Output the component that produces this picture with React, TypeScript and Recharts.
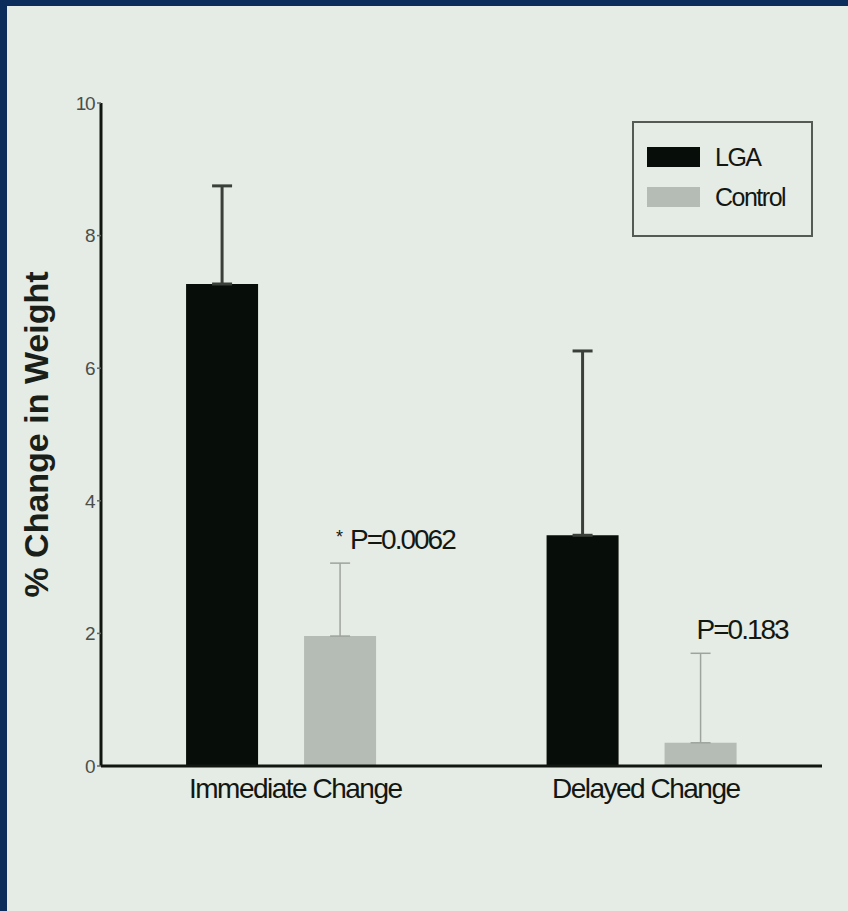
import React from 'react';
import { BarChart, Bar, XAxis, YAxis, ErrorBar, LabelList, Legend, Label } from 'recharts';

const categories = ['Immediate Change', 'Delayed Change'];
const lgaValues = [7.27, 3.48];
const lgaErrors = [1.48, 2.78];
const controlValues = [1.96, 0.35];
const controlErrors = [1.1, 1.35];
const pLabels = ['* P=0.0062', 'P=0.183'];
const yTicks = [0, 2, 4, 6, 8, 10];
const seriesNames = ['LGA', 'Control'];

const data = categories.map((name, i) => ({
  name,
  lga: lgaValues[i],
  lgaErr: [0, lgaErrors[i]],
  control: controlValues[i],
  controlErr: [0, controlErrors[i]],
  p: pLabels[i],
}));

const FONT = '"Liberation Sans", Arial, sans-serif';
const INK = '#121712';
const LGA_FILL = '#070d08';
const CTRL_FILL = '#b5bbb5';
const tickDx = [14, 4];

const renderXTick = (props: any) => {
  const { x, y, payload, index } = props;
  return (
    <text
      x={x + (tickDx[index] || 0)}
      y={y}
      dy={24}
      textAnchor="middle"
      fontFamily={FONT}
      fontSize={28}
      letterSpacing={-1.5}
      fill={INK}
    >
      {payload.value}
    </text>
  );
};

const renderPLabel = (props: any) => {
  const vb = props.viewBox || props;
  const x = Number(vb.x ?? props.x);
  const y = Number(vb.y ?? props.y);
  const width = Number(vb.width ?? props.width);
  const height = Number(vb.height ?? props.height);
  const index = props.index;
  const value = String(props.value);
  const pxPerUnit = height / controlValues[index];
  const errTop = y - controlErrors[index] * pxPerUnit;
  const star = value.startsWith('*');
  const rest = star ? value.replace(/^\*\s*/, '') : value;
  return (
    <text
      x={x + width / 2 - 4}
      y={errTop - 14}
      textAnchor="start"
      fontFamily={FONT}
      fontSize={28}
      letterSpacing={-2}
      fill={INK}
    >
      {star && (
        <tspan fontSize={18} dy={-6}>
          {'*'}
        </tspan>
      )}
      <tspan dy={star ? 6 : 0} dx={star ? 9 : 0}>{rest}</tspan>
    </text>
  );
};

const renderYLabel = (props: any) => {
  const vb = props.viewBox || {};
  const cx = vb.x + vb.width - 65;
  const cy = vb.y + vb.height / 2;
  return (
    <text
      x={cx}
      y={cy}
      transform={`rotate(-90, ${cx}, ${cy})`}
      textAnchor="middle"
      dominantBaseline="central"
      fontFamily={FONT}
      fontSize={34}
      fontWeight="bold"
      fill="#1a1f1a"
    >
      % Change in Weight
    </text>
  );
};

const renderLegend = (props: any) => {
  const payload = [...(props.payload || [])].sort(
    (a: any, b: any) => seriesNames.indexOf(a.value) - seriesNames.indexOf(b.value)
  );
  return (
    <div
      style={{
        boxSizing: 'border-box',
        width: 181,
        height: 116,
        border: '2px solid #555a55',
        paddingTop: 24,
        paddingLeft: 13,
      }}
    >
      {payload.map((entry: any, i: number) => (
        <div key={i} style={{ display: 'flex', alignItems: 'center', height: 20, marginBottom: 20 }}>
          <div style={{ width: 53, height: 20, background: entry.color }} />
          <span
            style={{
              marginLeft: 15,
              fontFamily: FONT,
              fontSize: 25,
              letterSpacing: -1.5,
              color: INK,
              lineHeight: '20px',
            }}
          >
            {entry.value}
          </span>
        </div>
      ))}
    </div>
  );
};

export default function App() {
  return (
    <div style={{ position: 'absolute', left: 0, top: 0, width: 848, height: 911, background: '#0b2d5c', overflow: 'hidden' }}>
      <div style={{ position: 'absolute', left: 7, top: 6, width: 841, height: 905, background: '#e5ebe5' }} />
      <div style={{ position: 'absolute', left: 0, top: 0 }}>
        <BarChart
          width={848}
          height={911}
          data={data}
          margin={{ top: 103, right: 26, left: 0, bottom: 105 }}
          barCategoryGap="23.6%"
          barGap={46}
        >
          <XAxis
            dataKey="name"
            height={40}
            axisLine={{ stroke: '#111611', strokeWidth: 3 }}
            tickLine={false}
            tick={renderXTick}
            interval={0}
          />
          <YAxis
            width={101}
            domain={[0, 10]}
            ticks={yTicks}
            type="number"
            allowDataOverflow
            axisLine={{ stroke: '#111611', strokeWidth: 3 }}
            tickLine={{ stroke: '#666', strokeWidth: 1.5 }}
            tickSize={4}
            tickMargin={3}
            tick={{ fontFamily: FONT, fontSize: 19, fill: '#4a4f4a', letterSpacing: -1.5 }}
          >
            <Label content={renderYLabel} />
          </YAxis>
          <Legend
            layout="vertical"
            align="center"
            verticalAlign="middle"
            content={renderLegend}
            wrapperStyle={{ left: 632, top: 121, width: 181, height: 116 }}
          />
          <Bar dataKey="lga" name={seriesNames[0]} fill={LGA_FILL} isAnimationActive={false}>
            <ErrorBar dataKey="lgaErr" width={10} stroke="#3a3f3a" strokeWidth={3} isAnimationActive={false} />
          </Bar>
          <Bar dataKey="control" name={seriesNames[1]} fill={CTRL_FILL} isAnimationActive={false}>
            <ErrorBar dataKey="controlErr" width={10} stroke="#9ea39e" strokeWidth={1.5} isAnimationActive={false} />
            <LabelList dataKey="p" content={renderPLabel} />
          </Bar>
        </BarChart>
      </div>
    </div>
  );
}
